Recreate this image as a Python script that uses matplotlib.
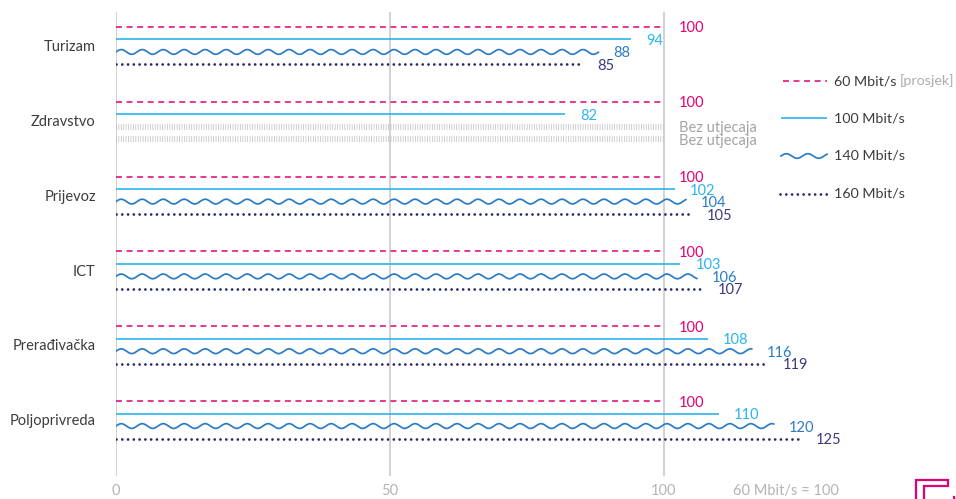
import numpy as np
import matplotlib
matplotlib.use("Agg")
import matplotlib.pyplot as plt

plt.rcParams['font.family'] = ['Lato', 'DejaVu Sans']
plt.rcParams['lines.scale_dashes'] = False

# --- data -------------------------------------------------------------
categories = ['Turizam', 'Zdravstvo', 'Prijevoz', 'ICT', 'Prerađivačka', 'Poljoprivreda']
speed_60 = [100, 100, 100, 100, 100, 100]          # average, index base
speed_100 = [94, 82, 102, 103, 108, 110]
speed_140 = [88, None, 104, 106, 116, 120]
speed_160 = [85, None, 105, 107, 119, 125]
series_names = ['60 Mbit/s', '100 Mbit/s', '140 Mbit/s', '160 Mbit/s']
no_effect_label = 'Bez utjecaja'
x_ticks = [0, 50, 100]
base_note = '60 Mbit/s = 100'

# --- style ------------------------------------------------------------
C_PINK = '#e20074'
C_LIGHT = '#2ab4ee'
C_WAVE = '#2a7cc6'
C_NAVY = '#27276a'
C_NAVY_TXT = '#3a3a7c'
C_GRID = '#c6c6c6'
C_HATCH = '#c2c2c2'
C_GREY_TXT = '#a4a4a4'
C_TEXT = '#3c3c3c'

W, H = 956, 499
fig = plt.figure(figsize=(W / 100, H / 100), dpi=100)

x0_px, x_per_unit = 116, 5.48
top_px, bot_px = 12, 476
xmax = (W - x0_px) / x_per_unit
ax = fig.add_axes([x0_px / W, (H - bot_px) / H, 1 - x0_px / W, (bot_px - top_px) / H])

slot_px = 12.47          # vertical distance between two lines in a group
group_step = 6           # slots between groups
first_row_px = 27
ax.set_xlim(0, xmax)
ax.set_ylim((bot_px - first_row_px) / slot_px, (top_px - first_row_px) / slot_px)
for s in ax.spines.values():
    s.set_visible(False)

for xv in x_ticks:
    ax.axvline(xv, color=C_GRID, lw=1.1, zorder=0)

ax.set_xticks(x_ticks)
ax.set_xticklabels([str(v) for v in x_ticks], color='#b4b4b4', fontsize=10.5)
ax.tick_params(axis='x', length=0, pad=6)

centers = [group_step * g + 1.5 for g in range(len(categories))]
ax.set_yticks(centers)
ax.set_yticklabels(categories, color=C_TEXT, fontsize=10.5)
ax.tick_params(axis='y', length=0, pad=14.5)

wave_amp = 0.19
wave_period = 3.83
lab_dx = 15 / x_per_unit
lab_dy = 1.5 / slot_px


def value_label(x, y, txt, color):
    ax.text(x + lab_dx, y + lab_dy, txt, color=color, fontsize=10.5,
            ha='left', va='center', clip_on=False)


for g, cat in enumerate(categories):
    y0 = group_step * g
    # 60 Mbit/s (dashed)
    v = speed_60[g]
    ax.plot([0, v], [y0, y0], color=C_PINK, lw=1.1, linestyle=(0, (4.3, 3.3)))
    value_label(v, y0, str(v), C_PINK)
    # 100 Mbit/s (solid)
    v = speed_100[g]
    ax.plot([0, v], [y0 + 1, y0 + 1], color=C_LIGHT, lw=1.2, solid_capstyle='butt')
    value_label(v, y0 + 1, str(v), C_LIGHT)
    # 140 Mbit/s (wave) and 160 Mbit/s (dots)
    v140, v160 = speed_140[g], speed_160[g]
    if v140 is None:
        for k in (2, 3):
            ax.plot([0, speed_60[g]], [y0 + k, y0 + k], color=C_HATCH, lw=4.4,
                    linestyle=(0, (0.55, 1.2)), solid_capstyle='butt')
            value_label(speed_60[g], y0 + k, no_effect_label, C_GREY_TXT)
        continue
    xs = np.linspace(0, v140, 800)
    ax.plot(xs, y0 + 2 - wave_amp * np.sin(2 * np.pi * xs / wave_period),
            color=C_WAVE, lw=1.25)
    value_label(v140, y0 + 2, str(v140), C_WAVE)
    ax.plot([0, v160], [y0 + 3, y0 + 3], color=C_NAVY, lw=2.0,
            linestyle=(0, (0.01, 4.15)), dash_capstyle='round')
    value_label(v160, y0 + 3, str(v160), C_NAVY_TXT)

# --- overlay for legend, note and logo (pixel units) ------------------
ov = fig.add_axes([0, 0, 1, 1], zorder=5)
ov.set_xlim(0, W)
ov.set_ylim(H, 0)
ov.axis('off')
ov.patch.set_alpha(0)

leg_x0, leg_x1, leg_tx = 783, 827, 834
leg_y = [81, 118, 156, 194]
ov.plot([leg_x0, leg_x1], [leg_y[0]] * 2, color=C_PINK, lw=1.1, linestyle=(0, (4.3, 3.3)))
ov.plot([leg_x0 - 2, leg_x1], [leg_y[1]] * 2, color=C_LIGHT, lw=1.2, solid_capstyle='butt')
wx = np.linspace(leg_x0 - 2, leg_x1, 200)
ov.plot(wx, leg_y[2] - 2.3 * np.sin(2 * np.pi * (wx - wx[0]) / 21.5), color=C_WAVE, lw=1.25)
ov.plot([leg_x0 - 3, leg_x1 + 1], [leg_y[3]] * 2, color=C_NAVY, lw=2.0,
        linestyle=(0, (0.01, 4.15)), dash_capstyle='round')
for i, (name, y) in enumerate(zip(series_names, leg_y)):
    t = ov.text(leg_tx, y, name, color=C_TEXT, fontsize=10.3, ha='left', va='center')
    if i == 0:
        ov.annotate('[prosjek]', xycoords=t, xy=(1, 0.5), xytext=(2, 0),
                    textcoords='offset points', va='center', ha='left',
                    color='#acacac', fontsize=10.3)

fig.text(733 / W, 1 - 491 / H, base_note, color='#b4b4b4', fontsize=10.5,
         ha='left', va='center')

# brand mark, partly cut off at the corner
ov.plot([916, 916, 948, 948, 924, 924], [H, 480, 480, 486, 486, H],
        color=C_PINK, lw=1.6, solid_joinstyle='miter', clip_on=False)
th = np.linspace(np.pi * 0.75, np.pi * 1.0, 20)
ov.plot(962 + 8 * np.cos(th), 497 + 8 * np.sin(th), color=C_PINK, lw=1.6)

fig.savefig('out.png', dpi=100)
